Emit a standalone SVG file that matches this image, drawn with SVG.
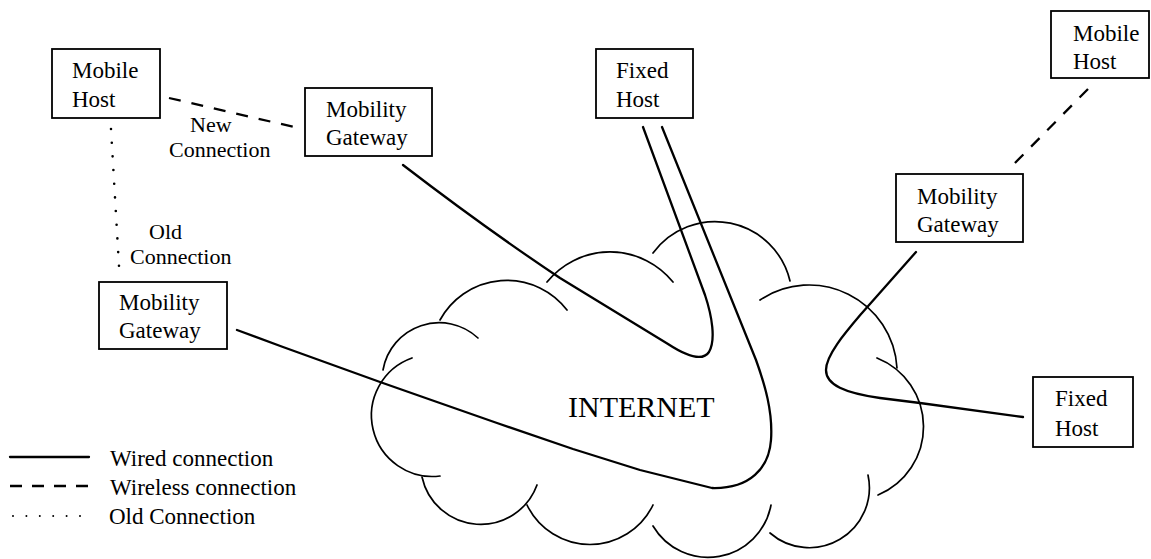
<svg xmlns="http://www.w3.org/2000/svg" width="1151" height="559" viewBox="0 0 1151 559">
<style>
  text { font-family: "Liberation Serif", "Times New Roman", serif; font-size: 23px; fill: #000; }
  .box { fill: #fff; stroke: #000; stroke-width: 1.8; }
  .wire { fill: none; stroke: #000; stroke-width: 2.3; stroke-linejoin: round; stroke-linecap: round; }
  .wireless { fill: none; stroke: #000; stroke-width: 2.3; stroke-dasharray: 12 11; }
  .old { fill: none; stroke: #000; stroke-width: 2.6; stroke-linecap: round; stroke-dasharray: 0 13.7; }
  .cloud { fill: none; stroke: #000; stroke-width: 1.7; stroke-linecap: round; }
  .big { font-size: 30px; }
  .lbl { font-size: 22px; }
</style>
<rect width="1151" height="559" fill="#fff"/>

<g id="internet-cloud">
  <path class="cloud" d="M760,300 A88,88 0 0 1 897,368"/>
  <path class="cloud" d="M653,253 A77,77 0 0 1 790,281"/>
  <path class="cloud" d="M547,282 A81,81 0 0 1 673,282"/>
  <path class="cloud" d="M440,320 A76,76 0 0 1 567,310"/>
  <path class="cloud" d="M383,370 A57,57 0 0 1 478,338"/>
  <path class="cloud" d="M412,358 A61,61 0 0 0 440,476"/>
  <path class="cloud" d="M422,477 A60,60 0 0 0 537,485"/>
  <path class="cloud" d="M527,505 A70,70 0 0 0 653,505"/>
  <path class="cloud" d="M653,526 A64,64 0 0 0 771,505"/>
  <path class="cloud" d="M770,533 A60,60 0 0 0 868,475"/>
  <path class="cloud" d="M877,358 A74,74 0 0 1 878,495"/>
  <text class="big" x="568" y="417">INTERNET</text>
</g>

<g id="connectors">
  <path class="wireless" d="M169,98 L294,127"/>
  <path class="wireless" d="M1088,89 L1013,165"/>
  <path class="old" d="M111,129 L119,266"/>
  <path class="wire" d="M403,165 Q485,228 560,278 L668,344 C688,357 703,361 709,352 C716,340 712,316 705,295 L643,127"/>
  <path class="wire" d="M237,330 L283,347 L380,382 L437,402 L497,423 L573,449 L640,470 L712,488 C750,489 769,468 771,440 C773,412 765,385 756,360 L662,127"/>
  <path class="wire" d="M916,252 L862,313 C845,333 826,355 826,370 C826,385 845,393 880,398 L920,403 L1023,417"/>
  <text class="lbl" x="190" y="131.5">New</text>
  <text class="lbl" x="169" y="156.5">Connection</text>
  <text class="lbl" x="149" y="238.5">Old</text>
  <text class="lbl" x="130" y="263.5">Connection</text>
</g>

<g id="mobile-host-left">
  <rect class="box" x="52" y="49" width="108" height="69"/>
  <text x="72" y="78">Mobile</text>
  <text x="72" y="107">Host</text>
</g>
<g id="mobility-gateway-new">
  <rect class="box" x="305" y="88" width="127" height="68"/>
  <text x="326" y="117">Mobility</text>
  <text x="326" y="145">Gateway</text>
</g>
<g id="mobility-gateway-old">
  <rect class="box" x="99" y="282" width="128" height="67"/>
  <text x="119" y="310">Mobility</text>
  <text x="119" y="338">Gateway</text>
</g>
<g id="fixed-host-top">
  <rect class="box" x="596" y="49" width="97" height="69"/>
  <text x="616" y="78">Fixed</text>
  <text x="616" y="107">Host</text>
</g>
<g id="mobile-host-right">
  <rect class="box" x="1051" y="11" width="98" height="67"/>
  <text x="1073" y="41">Mobile</text>
  <text x="1073" y="69">Host</text>
</g>
<g id="mobility-gateway-right">
  <rect class="box" x="896" y="174" width="127" height="68"/>
  <text x="917" y="204">Mobility</text>
  <text x="917" y="232">Gateway</text>
</g>
<g id="fixed-host-right">
  <rect class="box" x="1033" y="377" width="100" height="70"/>
  <text x="1055" y="406">Fixed</text>
  <text x="1055" y="436">Host</text>
</g>

<g id="legend">
  <line class="wire" x1="10" y1="457" x2="89" y2="457"/>
  <text x="110" y="466">Wired connection</text>
  <line x1="10" y1="486" x2="89" y2="486" stroke="#000" stroke-width="2.3" stroke-dasharray="12 10"/>
  <text x="110" y="495">Wireless connection</text>
  <line class="old" x1="13" y1="516" x2="80" y2="516" style="stroke-width:2;stroke-dasharray:0 13.4"/>
  <text x="109" y="524">Old Connection</text>
</g>
</svg>
